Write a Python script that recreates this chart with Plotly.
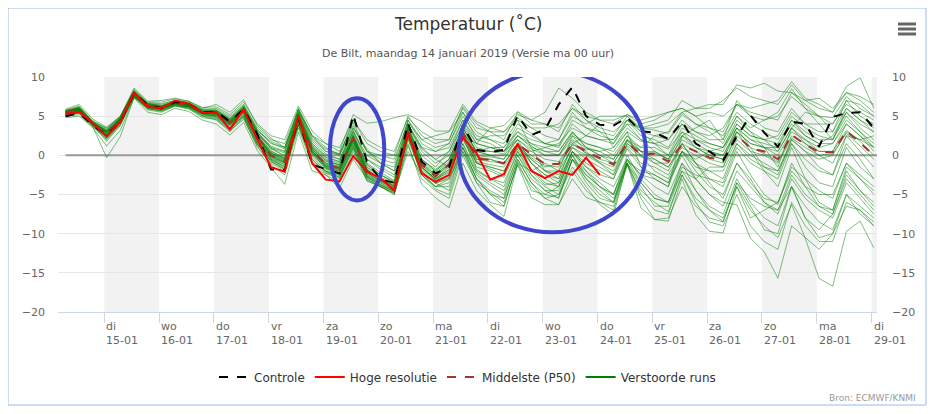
import pandas as pd
import plotly.graph_objects as go

# tijdas: ECMWF pluim, elke 6 uur vanaf ma 14-01 07 uur (lokale tijd)
tijden = pd.date_range("2019-01-14 07:00", periods=60, freq="6h")

dagen = ["di", "wo", "do", "vr", "za", "zo", "ma", "di", "wo", "do", "vr", "za", "zo", "ma", "di"]
datums = ["15-01", "16-01", "17-01", "18-01", "19-01", "20-01", "21-01", "22-01",
          "23-01", "24-01", "25-01", "26-01", "27-01", "28-01", "29-01"]

controle = [5.0, 5.4, 3.8, 2.6, 4.2, 8.0, 6.4, 6.0, 6.8, 6.6, 5.5, 5.6, 4.3, 5.9, 2.7, -1.8,
            -1.9, 4.8, -1.2, -1.7, -2.3, 5.2, -0.8, -3.1, -3.5, 4.1, -0.8, -2.3, -1.5, 3.8, 0.7, 0.4,
            0.7, 5.1, 2.6, 3.3, 6.5, 8.7, 5.0, 3.9, 3.8, 4.8, 3.1, 2.9, 2.1, 4.3, 1.5, 0.5,
            -0.7, 2.4, 5.1, 2.9, 1.1, 4.3, 4.0, 1.1, 4.9, 5.4, 5.5, 3.5]

hoge_resolutie = [5.3, 5.5, 4.1, 2.4, 4.3, 8.0, 6.2, 6.0, 7.0, 6.6, 5.4, 5.5, 3.3, 5.9, 2.0, -1.5,
                  -2.1, 5.1, -1.0, -3.1, -3.3, -0.1, -2.1, -2.9, -4.5, 2.9, -2.3, -3.4, -2.5, 2.3, 0.3, -3.1,
                  -2.4, 1.5, -2.0, -2.9, -2.0, -2.5, -0.3, -2.5]

middelste = [5.5, 5.8, 4.0, 2.8, 4.5, 7.8, 6.4, 6.1, 6.7, 6.4, 5.5, 5.4, 4.2, 5.7, 2.4, 0.0,
             -0.8, 4.8, 0.7, -1.2, -1.6, 2.2, -2.0, -3.1, -4.0, 3.1, -1.2, -2.7, -1.2, 2.9, -0.4, -0.6,
             -1.0, 1.5, 0.1, -1.1, -1.1, 1.5, 0.5, -0.3, -1.2, 1.6, 0.1, 0.2, -0.8, 1.3, 0.5, -0.3,
             -0.6, 2.6, 0.9, 0.5, -0.5, 2.6, 1.4, 0.4, 0.4, 3.1, 1.6, 0.0]

run01 = [5.7, 6.0, 4.2, 3.0, 4.6, 8.1, 6.6, 6.3, 6.9, 6.6, 5.6, 5.7, 4.6, 6.2, 3.0, 1.0,
         0.5, 5.5, 1.8, 0.2, -0.5, 3.5, 0.8, -1.0, -2.0, 4.5, 1.5, 0.5, 1.5, 5.0, 2.5, 2.0,
         1.0, 4.0, 2.8, 1.5, 1.2, 4.5, 3.5, 3.0, 2.5, 5.0, 3.5, 3.2, 2.8, 5.2, 4.0, 3.5,
         3.0, 6.5, 5.5, 5.0, 4.5, 8.0, 6.5, 5.0, 4.8, 7.5, 6.0, 5.0]
run02 = [5.2, 5.5, 3.8, 2.2, 4.0, 7.6, 6.0, 5.8, 6.5, 6.1, 5.2, 5.0, 3.6, 5.0, 1.6, -0.8,
         -1.8, 4.0, -0.5, -2.2, -2.8, 1.0, -3.2, -4.0, -4.8, 2.0, -2.5, -4.0, -3.5, 1.5, -2.5, -3.8,
         -5.0, 0.0, -2.5, -4.5, -5.5, -0.5, -2.0, -3.5, -5.0, -0.5, -2.5, -3.0, -4.0, 0.5, -1.5, -2.0,
         -2.0, 1.5, 0.0, -1.0, -2.0, 2.0, 0.5, -0.5, 0.0, 3.0, 2.0, 1.0]
run03 = [5.6, 5.9, 4.1, 3.2, 4.8, 7.9, 6.3, 6.0, 6.8, 6.5, 5.4, 5.2, 4.0, 5.8, 2.2, -0.3,
         -1.2, 4.6, 0.2, -1.6, -2.0, 2.0, -2.4, -3.5, -4.4, 2.8, -1.8, -3.2, -2.0, 2.2, -1.5, -2.0,
         -2.8, 0.8, -1.8, -3.5, -4.0, 0.0, -2.5, -4.0, -5.0, -1.0, -3.5, -5.5, -6.0, -2.0, -4.5, -7.0,
         -8.0, -4.0, -7.0, -9.0, -10.5, -6.3, -10.6, -15.7, -16.7, -9.7, -8.4, -11.8]
run04 = [5.4, 5.7, 4.0, 2.6, 4.4, 7.7, 6.5, 6.0, 6.6, 6.3, 5.5, 5.3, 4.0, 5.5, 2.2, 0.3,
         -0.5, 4.9, 0.8, -1.0, -1.4, 2.5, -1.6, -2.8, -3.6, 3.4, -0.8, -2.2, -0.8, 3.2, 0.0, -0.2,
         -0.5, 2.0, 0.5, -0.5, -0.8, 1.8, 0.2, -0.8, -1.5, 1.2, -0.2, -0.5, -1.5, 1.0, 0.0, -1.0,
         -1.5, 2.0, 0.5, 0.0, -1.0, 2.2, 1.0, 0.0, 0.2, 2.8, 1.2, -0.5]
run05 = [5.8, 6.3, 4.4, 3.4, 4.9, 8.3, 6.7, 6.6, 7.0, 6.8, 5.9, 6.0, 5.0, 6.5, 3.5, 2.0,
         1.5, 6.0, 2.5, 1.0, 0.0, 4.5, 1.5, 0.5, 0.0, 5.0, 2.5, 1.5, 2.0, 6.0, 3.5, 3.0,
         3.0, 5.2, 4.5, 5.5, 8.6, 7.3, 5.5, 4.5, 4.5, 5.2, 4.0, 4.5, 5.5, 6.0, 5.0, 3.5,
         2.5, 5.5, 4.0, 3.0, 2.0, 5.0, 3.5, 2.5, 2.0, 5.5, 4.0, 3.0]
run06 = [5.0, 5.2, 3.6, -0.3, 2.4, 7.4, 5.8, 5.5, 6.3, 5.9, 4.8, 4.6, 3.2, 4.6, 1.2, -1.2,
         -2.5, 3.5, -1.2, -2.5, -3.5, 0.5, -3.3, -4.0, -5.0, 1.2, -3.0, -4.5, -5.5, 0.0, -3.5, -4.8,
         -6.0, -1.2, -4.0, -5.5, -6.3, -2.0, -4.5, -6.0, -7.0, -1.2, -4.5, -6.0, -7.2, -2.5, -5.5, -7.0,
         -8.5, -3.5, -6.5, -9.5, -10.0, -4.0, -8.0, -10.5, -10.0, -5.0, -7.5, -9.0]
run07 = [5.3, 5.6, 3.9, 2.5, 4.3, 7.5, 6.2, 6.2, 6.8, 6.4, 5.3, 5.0, 3.8, 5.2, 2.0, -0.5,
         -1.5, 4.2, 0.0, -1.8, -2.4, 1.5, -2.8, -3.8, -4.6, 2.5, -2.2, -3.6, -2.8, 1.5, -2.0, -3.0,
         -3.5, 0.5, -2.0, -3.8, -3.5, 0.5, -1.5, -2.5, -3.0, 0.8, -1.5, -2.5, -3.5, 0.0, -3.0, -5.0,
         -6.0, -6.3, -10.6, -12.3, -15.7, -9.0, -10.5, -12.0, -10.0, -6.5, -7.0, -8.5]
run08 = [5.6, 6.1, 4.3, 3.5, 4.9, 8.4, 6.8, 6.8, 7.2, 6.9, 6.1, 6.2, 5.2, 6.8, 4.0, 2.5,
         2.0, 6.3, 3.1, 1.5, 0.5, 5.2, 4.1, 4.3, 4.8, 5.2, 4.3, 3.1, 3.1, 6.5, 4.3, 3.5,
         3.8, 5.6, 4.5, 4.0, 3.5, 6.0, 5.0, 4.5, 4.0, 5.2, 4.5, 5.0, 5.5, 6.0, 5.0, 5.5,
         5.0, 6.5, 6.0, 6.5, 7.0, 9.4, 7.3, 6.5, 5.5, 8.8, 9.9, 6.0]
run09 = [5.5, 5.9, 4.1, 2.9, 4.5, 7.9, 6.4, 6.2, 6.7, 6.5, 5.6, 5.5, 4.4, 6.0, 2.8, 0.8,
         0.0, 5.2, 1.2, -0.5, -1.0, 2.8, -1.0, -2.2, -3.2, 3.6, 0.0, -1.5, 0.5, 3.8, 1.0, 0.5,
         0.2, 2.5, 1.2, 0.0, 0.0, 2.8, 1.5, 1.0, 0.5, 3.0, 1.8, 1.5, 0.8, 3.0, 2.0, 1.5,
         1.0, 4.0, 2.5, 2.0, 1.5, 4.5, 3.0, 2.0, 2.0, 5.0, 3.0, 1.5]
run10 = [5.3, 5.5, 3.9, 2.4, 4.1, 7.6, 6.1, 5.8, 6.5, 6.2, 5.3, 5.0, 3.5, 5.3, 1.8, -0.2,
         -1.0, 4.4, 0.4, -1.4, -1.8, 1.8, -2.2, -3.3, -4.2, 2.9, -1.5, -3.0, -1.8, 2.5, -1.0, -1.5,
         -2.0, 1.0, -1.0, -2.5, -3.0, 0.5, -1.5, -3.0, -4.0, -0.5, -2.5, -4.0, -5.0, -1.0, -3.0, -5.0,
         -6.5, -2.0, -4.0, -6.0, -7.5, -3.0, -5.5, -7.0, -8.0, -3.5, -5.5, -7.5]
run11 = [5.1, 5.4, 3.7, 2.0, 3.9, 7.4, 6.0, 5.6, 6.3, 6.0, 5.0, 4.5, 3.0, 4.8, 1.0, -1.0,
         -2.0, 3.8, -1.0, -2.3, -3.0, 0.8, -3.0, -4.0, -5.0, 1.5, -3.7, -5.4, -6.7, -1.0, -4.5, -6.3,
         -7.8, -1.2, -5.4, -6.3, -6.3, -3.0, -5.4, -6.0, -6.5, -1.0, -6.7, -8.2, -8.4, -3.0, -7.6, -9.7,
         -9.9, -4.0, -8.0, -7.0, -6.0, -2.0, -4.0, -5.0, -5.0, -1.0, -3.0, -4.5]
run12 = [5.6, 5.8, 3.9, 2.7, 4.7, 7.7, 6.3, 6.0, 6.6, 6.4, 5.4, 5.3, 4.1, 5.7, 2.5, 0.2,
         -0.6, 4.8, 0.9, -1.0, -1.5, 2.2, -1.8, -3.0, -3.9, 3.2, -1.0, -2.5, -1.0, 3.0, -0.2, -0.5,
         -1.2, 1.6, 0.0, -1.3, -1.5, 1.5, 0.3, -0.5, -1.0, 1.8, 0.5, 0.3, -0.5, 1.5, 0.5, -0.5,
         -1.0, 2.5, 1.0, 0.2, -0.8, 2.5, 1.5, 0.5, 0.5, 3.2, 1.8, 0.0]
run13 = [5.9, 6.5, 4.6, 3.6, 5.0, 8.6, 6.9, 7.0, 7.3, 6.9, 6.0, 6.5, 5.5, 7.1, 3.8, 2.2,
         1.0, 5.8, 2.0, 0.5, 0.2, 4.2, 0.5, -0.5, -1.0, 4.5, 2.0, 1.0, 1.5, 5.5, 2.0, 1.5,
         0.5, 3.5, 2.5, 1.5, 1.0, 4.0, 2.5, 2.0, 1.5, 4.5, 3.5, 3.5, 4.0, 5.5, 6.0, 6.5,
         6.5, 9.0, 8.6, 9.2, 8.2, 8.0, 7.0, 7.3, 6.0, 8.0, 7.0, 5.5]
run14 = [4.8, 5.0, 3.5, 1.2, 3.2, 7.3, 5.5, 5.2, 6.0, 5.6, 4.5, 4.0, 2.6, 4.2, 0.6, -1.6,
         -3.7, 3.0, -2.0, -2.5, -4.2, -0.5, -3.0, -4.0, -4.8, 0.5, -2.5, -4.0, -3.0, 0.5, -3.0, -5.0,
         -5.5, -0.5, -3.5, -5.5, -5.0, -1.5, -4.0, -6.3, -7.6, -1.0, -5.0, -7.0, -7.5, -2.5, -6.0, -8.5,
         -9.0, -5.0, -9.0, -11.0, -12.0, -6.0, -9.0, -11.0, -11.0, -6.0, -7.0, -9.0]
run15 = [5.4, 5.6, 4.0, 3.0, 4.6, 7.8, 6.2, 6.1, 6.7, 6.3, 5.5, 5.3, 4.2, 5.6, 2.3, -0.2,
         -1.0, 4.5, 0.5, -1.5, -2.0, 2.0, -2.2, -3.2, -4.0, 3.0, -1.5, -3.0, -1.5, 2.5, -1.0, -1.5,
         -2.0, 1.0, -0.5, -2.0, -2.0, 1.0, -0.5, -1.5, -2.5, 1.0, -1.0, -1.5, -2.5, 0.5, -1.0, -2.0,
         -3.0, 1.5, -0.5, -1.5, -2.0, 1.5, -0.5, -2.0, -2.5, 1.5, -0.5, -3.0]
run16 = [5.7, 6.2, 4.2, 3.3, 5.0, 8.2, 6.6, 6.4, 6.8, 6.6, 5.8, 5.8, 4.8, 6.3, 3.2, 1.5,
         1.0, 5.6, 2.2, 0.8, 0.2, 3.8, 0.5, -1.0, -1.5, 4.0, 1.0, 0.5, 1.0, 4.5, 2.0, 2.5,
         2.5, 4.8, 3.5, 3.5, 4.0, 6.0, 4.5, 3.5, 3.0, 4.5, 2.5, 2.0, 1.0, 4.0, 2.0, 1.0,
         0.5, 4.0, 2.5, 2.0, 2.5, 5.5, 4.0, 3.0, 3.0, 6.0, 4.5, 3.5]
run17 = [5.5, 5.7, 4.0, 2.8, 4.5, 7.8, 6.4, 6.1, 6.7, 6.3, 5.4, 5.4, 4.3, 5.9, 2.6, 0.0,
         -0.8, 4.9, 0.6, -1.3, -1.8, 2.3, -1.8, -3.2, -4.3, 3.0, -1.5, -3.2, -2.5, 2.4, -1.8, -3.0,
         -4.0, 0.5, -2.5, -4.0, -5.0, -0.5, -3.0, -5.0, -6.0, -0.5, -3.5, -5.5, -6.0, -1.5, -2.5, -3.0,
         -3.5, 1.0, -1.0, -2.0, -3.0, 1.5, -1.5, -3.5, -4.0, 1.0, -1.5, -3.0]
run18 = [5.6, 6.0, 4.2, 3.1, 4.7, 8.0, 6.5, 6.3, 6.9, 6.6, 5.7, 5.6, 4.5, 6.1, 2.9, 1.2,
         0.5, 5.4, 1.5, -0.2, -0.8, 3.2, -0.5, -1.8, -2.8, 3.8, 0.5, -1.0, 0.0, 4.0, 1.5, 1.0,
         1.0, 3.0, 1.5, 0.5, 0.5, 3.0, 1.0, 0.0, -0.5, 2.5, 0.5, -1.0, -2.0, 1.5, -1.0, -3.0,
         -4.0, 0.5, -2.5, -5.0, -6.3, -1.0, -4.0, -6.5, -7.0, -2.0, -4.5, -6.0]
run19 = [5.5, 6.0, 4.1, 3.0, 4.6, 8.0, 6.5, 6.2, 6.8, 6.5, 5.6, 5.6, 4.5, 6.0, 2.9, 0.9,
         0.3, 5.3, 1.3, -0.3, -0.8, 3.0, -0.5, -1.5, -2.5, 3.8, 0.8, -0.5, 0.5, 4.5, 1.5, 1.0,
         0.5, 3.0, 2.0, 1.5, 2.0, 5.5, 3.5, 2.5, 2.0, 4.5, 3.0, 2.5, 2.0, 4.5, 3.0, 2.0,
         2.0, 7.0, 5.0, 3.5, 3.0, 6.0, 4.0, 4.0, 4.0, 7.0, 5.0, 4.0]
run20 = [5.2, 5.6, 3.8, 2.3, 4.2, 7.6, 6.1, 5.9, 6.4, 6.2, 5.2, 4.9, 3.4, 5.0, 1.4, -0.6,
         -1.5, 4.0, -0.2, -2.0, -2.5, 1.2, -2.6, -3.6, -4.5, 2.5, -2.0, -3.5, -3.0, 1.0, -2.2, -3.5,
         -4.5, 0.0, -3.0, -4.5, -4.5, -0.5, -2.5, -4.0, -5.0, 0.0, -3.0, -5.0, -6.0, -1.0, -4.5, -6.5,
         -7.5, -3.0, -6.0, -8.0, -9.0, -4.0, -6.5, -8.5, -9.5, -5.0, -6.5, -8.0]
run21 = [5.5, 5.8, 4.0, 2.5, 4.3, 7.7, 6.3, 6.0, 6.6, 6.3, 5.4, 5.2, 3.9, 5.6, 2.3, 0.1,
         -0.7, 4.7, 0.8, -1.1, -1.6, 2.1, -2.0, -3.0, -3.8, 3.2, -1.2, -2.8, -1.2, 2.8, -0.5, -0.8,
         -1.0, 1.2, -0.3, -1.5, -1.0, 1.3, 0.8, 0.5, -0.5, 2.0, 0.5, 0.5, -0.5, 2.0, 1.0, 0.5,
         0.0, 3.0, 1.5, 1.0, 0.0, 3.0, 2.0, 1.0, 1.5, 4.0, 2.5, 1.0]
run22 = [5.6, 5.9, 4.1, 2.9, 4.6, 7.9, 6.4, 6.1, 6.7, 6.4, 5.5, 5.5, 4.3, 5.8, 2.5, 0.5,
         -0.3, 5.0, 1.0, -0.8, -1.2, 2.6, -1.5, -2.5, -3.5, 3.4, -0.5, -2.0, -0.5, 3.5, 0.5, 0.0,
         0.0, 2.0, 0.8, 0.0, 0.0, 2.0, 1.0, 0.5, 1.0, 3.5, 2.0, 1.5, 2.0, 4.0, 3.0, 2.5,
         3.5, 6.5, 5.0, 4.5, 5.0, 7.5, 6.0, 5.0, 4.0, 6.5, 5.5, 4.5]
run23 = [5.3, 5.5, 3.8, 1.8, 3.8, 7.5, 5.9, 5.7, 6.4, 6.0, 5.0, 4.7, 3.2, 4.9, 1.4, -0.8,
         -1.8, 3.9, -0.8, -2.0, -2.8, 1.0, -2.8, -3.8, -4.6, 2.2, -2.2, -4.0, -4.0, 1.0, -3.0, -4.5,
         -5.5, -0.5, -3.5, -5.0, -5.4, -0.5, -3.5, -5.5, -6.0, -1.2, -5.5, -8.2, -8.0, -4.0, -6.5, -8.0,
         -8.5, -3.5, -5.5, -6.5, -7.0, -2.5, -5.0, -6.5, -7.5, -3.0, -5.0, -7.0]
run24 = [5.4, 5.8, 4.0, 2.9, 4.5, 7.8, 6.4, 6.0, 6.6, 6.4, 5.5, 5.4, 4.2, 5.7, 2.4, 0.4,
         -0.4, 5.0, 1.1, -0.6, -1.2, 2.5, -1.2, -2.5, -3.5, 3.5, -0.5, -2.0, -0.5, 3.5, 0.5, 0.0,
         -0.5, 2.5, 1.0, 0.5, 0.0, 2.5, 1.5, 1.0, 0.0, 2.5, 1.0, 1.0, 0.0, 2.5, 1.5, 0.5,
         0.0, 3.5, 2.0, 1.5, 1.0, 4.0, 2.5, 1.5, 1.5, 4.5, 3.0, 1.0]
run25 = [5.5, 6.1, 4.2, 2.7, 4.4, 7.9, 6.5, 6.2, 6.8, 6.5, 5.6, 5.6, 4.4, 6.1, 2.7, 1.0,
         -0.2, 5.3, 1.5, 0.0, -0.5, 3.0, 0.0, -1.0, -2.0, 4.0, 1.0, -0.5, -1.5, 2.5, 1.5, 3.5,
         3.0, 4.5, 1.0, -2.0, -3.0, 1.5, 2.5, 4.0, 1.0, 3.0, -1.5, -3.0, -4.0, 2.5, 3.5, 4.5,
         2.0, 5.0, 3.0, 1.0, -1.5, 3.5, 5.5, 5.0, 3.0, 7.0, 6.5, 5.0]
run26 = [5.4, 5.6, 3.9, 2.6, 4.2, 7.6, 6.2, 5.9, 6.6, 6.2, 5.3, 5.1, 3.8, 5.4, 2.0, -0.5,
         -1.4, 4.3, 0.3, -1.7, -2.2, 1.6, -2.6, -3.7, -4.5, 2.6, -2.0, -3.5, -4.5, 1.0, -3.0, -5.0,
         -6.5, -1.0, -2.0, -1.0, -2.0, 2.5, 0.5, -1.0, -2.5, 2.0, 1.0, 2.5, 3.0, 5.5, 4.0, 3.0,
         1.5, 5.0, 3.5, 4.5, 5.5, 8.5, 6.0, 4.0, 2.0, 6.0, 4.5, 3.0]
run27 = [5.5, 5.9, 4.0, 3.0, 4.6, 7.8, 6.4, 6.0, 6.7, 6.4, 5.5, 5.4, 4.2, 5.8, 2.5, 0.3,
         -0.6, 4.8, 0.6, -1.2, -1.6, 2.3, -2.0, -3.0, -4.0, 3.0, -1.0, -2.5, -1.0, 3.0, 0.5, 1.0,
         0.5, 2.0, -1.0, -3.0, -4.0, 0.5, -1.0, -2.0, -3.0, 1.5, 0.0, -1.0, -1.0, 2.5, 1.0, 0.0,
         -0.5, 3.0, 0.5, -2.0, -4.0, 1.0, -3.0, -6.0, -7.0, -1.5, -3.0, -5.0]
run28 = [5.7, 6.0, 4.1, 3.1, 4.7, 8.1, 6.6, 6.3, 6.9, 6.6, 5.7, 5.7, 4.6, 6.2, 3.1, 1.8,
         1.0, 5.7, 2.5, 0.5, 0.0, 3.5, 0.5, 0.0, -0.5, 4.2, 2.0, 2.5, 3.0, 5.5, 3.0, 2.0,
         1.5, 4.5, 3.5, 2.5, 2.0, 5.0, 4.0, 5.0, 5.0, 5.0, 3.0, 1.5, 0.0, 3.5, 2.5, 1.5,
         1.0, 3.5, 1.0, -1.5, -2.5, 2.0, 0.5, -1.5, -2.5, 2.5, 0.5, -1.5]
run29 = [5.3, 5.7, 3.9, 2.6, 4.3, 7.7, 6.2, 6.0, 6.6, 6.3, 5.4, 5.2, 3.9, 5.5, 2.1, -0.4,
         -1.2, 4.4, 0.3, -1.6, -2.2, 1.8, -2.4, -3.4, -4.2, 2.7, -1.6, -3.0, -2.2, 2.0, -1.0, -1.8,
         -2.5, 1.5, -1.0, -2.5, -3.5, 0.5, -2.0, -4.0, -5.5, -1.0, -4.0, -6.5, -6.5, -2.0, -3.0, -1.5,
         -1.5, 3.0, 1.5, 1.0, 1.0, 4.5, 2.5, 1.5, 2.5, 5.5, 3.5, 2.0]
run30 = [5.6, 5.8, 4.0, 2.9, 4.6, 7.8, 6.3, 6.1, 6.7, 6.4, 5.5, 5.3, 4.1, 5.6, 2.3, 0.0,
         -0.9, 4.7, 0.6, -1.3, -1.7, 2.2, -1.9, -3.0, -3.9, 3.1, -1.3, -2.6, -1.3, 2.8, -0.5, -0.5,
         -1.0, 1.5, -0.5, -2.0, -2.5, 1.0, 0.0, -1.0, -2.0, 1.5, 0.5, -0.5, -1.5, 1.5, -1.0, -3.5,
         -5.5, -1.0, -3.0, -6.0, -7.0, -4.0, -8.0, -9.5, -7.5, -2.5, -4.5, -6.5]
run31 = [5.6, 6.0, 4.2, 3.0, 4.7, 7.9, 6.4, 6.2, 6.8, 6.5, 5.6, 5.5, 4.3, 5.9, 2.6, 0.6,
         -0.4, 5.1, 1.0, -0.7, -1.3, 2.5, -1.2, -2.5, -3.3, 3.5, -0.5, -1.8, -0.5, 3.5, 0.5, 0.5,
         0.5, 2.5, 1.5, 1.0, 1.5, 3.5, 2.5, 2.0, 2.0, 4.0, 3.5, 4.0, 4.5, 7.0, 6.0, 6.0,
         7.0, 8.6, 7.5, 7.0, 6.5, 9.0, 7.0, 6.0, 5.5, 8.0, 7.5, 6.5]
run32 = [5.4, 5.7, 3.9, 2.6, 4.4, 7.7, 6.3, 6.0, 6.6, 6.3, 5.4, 5.3, 4.0, 5.6, 2.2, -0.1,
         -0.9, 4.6, 0.5, -1.4, -1.9, 2.0, -2.2, -3.3, -4.1, 2.9, -1.5, -3.0, -1.8, 2.6, -0.8, -1.2,
         -1.5, 1.2, 0.5, 1.0, 0.5, 3.0, 1.0, 0.0, -1.0, 2.0, 0.0, -2.0, -3.0, 0.5, -0.5, 0.5,
         1.0, 4.5, 3.0, 2.0, 0.5, 3.5, 1.5, 0.0, -1.0, 2.5, 2.0, 2.5]
run33 = [5.2, 5.4, 3.7, 2.1, 4.0, 7.5, 6.0, 5.7, 6.4, 6.1, 5.1, 4.8, 3.4, 5.1, 1.5, -0.7,
         -1.7, 4.0, -0.5, -2.1, -2.6, 1.3, -2.7, -3.8, -4.7, 2.3, -2.5, -4.3, -5.0, 0.5, -3.5, -6.0,
         -6.5, -0.8, -4.5, -5.0, -4.0, 0.0, -3.0, -4.5, -6.0, -0.8, -2.0, -2.5, -3.5, 0.5, -2.0, -4.0,
         -5.0, -1.0, -3.5, -5.5, -6.0, -1.5, -3.0, -4.5, -5.5, -1.0, -2.5, -4.0]
run34 = [5.7, 6.1, 4.3, 3.2, 4.8, 8.2, 6.6, 6.5, 7.0, 6.7, 5.8, 5.8, 4.7, 6.4, 3.3, 1.6,
         0.8, 5.9, 2.5, 1.5, 1.0, 4.5, 2.0, 1.0, 0.5, 4.8, 3.0, 2.0, 2.0, 6.2, 4.0, 3.0,
         2.0, 5.5, 4.0, 4.0, 3.0, 6.5, 4.5, 3.0, 1.5, 4.0, 2.0, 0.5, -0.5, 3.0, 1.0, 0.0,
         -0.5, 3.5, 2.0, 1.0, 0.5, 3.5, 2.0, 0.5, 0.5, 4.0, 2.5, 0.5]

runs = [run01, run02, run03, run04, run05, run06, run07, run08, run09, run10, run11, run12,
        run13, run14, run15, run16, run17, run18, run19, run20, run21, run22, run23, run24,
        run25, run26, run27, run28, run29, run30, run31, run32, run33, run34]

# de pagina heeft 8px marge rondom; figuur 920x398, plotvlak op schermpixels 58..877 x 77..312
L, R, T, B = 50, 51, 69, 94
W, H = 920 - L - R, 398 - T - B


def px(x):
    # schermpixel -> paper-coordinaat
    return (x - 8 - L) / W


def py(y):
    return (398 - B - (y - 8)) / H


fig = go.Figure()

for run in runs:
    fig.add_trace(go.Scatter(x=tijden, y=run, mode="lines", showlegend=False, hoverinfo="skip",
                             line=dict(color="rgba(0,128,0,0.5)", width=1)))

fig.add_trace(go.Scatter(x=tijden, y=middelste, mode="lines", name="Middelste (P50)", legendrank=3,
                         line=dict(color="#a83232", width=2, dash="dash")))
fig.add_trace(go.Scatter(x=tijden, y=controle, mode="lines", name="Controle", legendrank=1,
                         line=dict(color="black", width=2, dash="dash")))
fig.add_trace(go.Scatter(x=tijden[:len(hoge_resolutie)], y=hoge_resolutie, mode="lines",
                         name="Hoge resolutie", legendrank=2, line=dict(color="red", width=2)))
fig.add_trace(go.Scatter(x=[None], y=[None], mode="lines", name="Verstoorde runs", legendrank=4,
                         line=dict(color="green", width=2)))

# grijze banden om de andere dag
shapes = []
for d in range(1, 16, 2):
    start = pd.Timestamp("2019-01-14") + pd.Timedelta(days=d)
    shapes.append(dict(type="rect", xref="x", yref="paper", x0=start, x1=start + pd.Timedelta(days=1),
                       y0=0, y1=1, fillcolor="#f2f2f2", line_width=0, layer="below"))
# nullijn
shapes.append(dict(type="line", xref="x", yref="y", x0=tijden[0], x1="2019-01-29 02:24", y0=0, y1=0,
                   line=dict(color="#999999", width=2), layer="between"))
# blauwe ellipsen
shapes.append(dict(type="circle", xref="x", yref="y", x0="2019-01-19 02:48", x1="2019-01-20 02:36",
                   y0=-5.75, y1=7.28, line=dict(color="#3f48cc", width=4)))
shapes.append(dict(type="circle", xref="x", yref="y", x0="2019-01-21 11:12", x1="2019-01-24 21:12",
                   y0=-9.83, y1=10.73, line=dict(color="#3f48cc", width=4)))
# kader
shapes.append(dict(type="rect", xref="paper", yref="paper", x0=px(8), x1=px(926), y0=py(405), y1=py(8),
                   line=dict(color="#99bbe8", width=1)))
# menu-icoon
for yy in [24, 29, 34]:
    shapes.append(dict(type="line", xref="paper", yref="paper", x0=px(898), x1=px(916), y0=py(yy), y1=py(yy),
                       line=dict(color="#666666", width=3)))

annotations = []
for d, (dag, datum) in enumerate(zip(dagen, datums)):
    annotations.append(dict(x=pd.Timestamp("2019-01-14") + pd.Timedelta(days=d + 1), xref="x",
                            y=py(318), yref="paper", text=dag + "<br>" + datum, showarrow=False,
                            xanchor="left", yanchor="top", align="left",
                            font=dict(size=11, color="#666666")))
annotations.append(dict(x=px(468), y=py(24), xref="paper", yref="paper", text="Temperatuur (˚C)",
                        showarrow=False, yanchor="middle", font=dict(size=17, color="#333333")))
annotations.append(dict(x=px(468), y=py(53), xref="paper", yref="paper",
                        text="De Bilt, maandag 14 januari 2019 (Versie ma 00 uur)",
                        showarrow=False, yanchor="middle", font=dict(size=11, color="#555555")))
annotations.append(dict(x=px(918), y=py(398), xref="paper", yref="paper", text="Bron: ECMWF/KNMI",
                        showarrow=False, xanchor="right", yanchor="middle",
                        font=dict(size=9, color="#999999")))

fig.update_layout(
    width=920, height=398,
    margin=dict(l=L, r=R, t=T, b=B),
    paper_bgcolor="white", plot_bgcolor="white",
    font=dict(family="DejaVu Sans", color="#333333"),
    showlegend=True,
    legend=dict(orientation="h", x=0.5, xanchor="center", y=py(377), yanchor="middle",
                itemwidth=30, font=dict(size=12, color="#333333")),
    shapes=shapes, annotations=annotations,
    xaxis=dict(type="date", range=["2019-01-14 03:42", "2019-01-29 02:24"], showgrid=False,
               showticklabels=False, ticks="outside", ticklen=10, tickcolor="#ccd6eb",
               tickvals=[pd.Timestamp("2019-01-14") + pd.Timedelta(days=d) for d in range(1, 16)],
               showline=True, linecolor="#ccd6eb", linewidth=1, zeroline=False),
    yaxis=dict(range=[-20, 10], dtick=5, gridcolor="#e6e6e6", zeroline=False,
               tickfont=dict(size=11, color="#666666"), ticklabelstandoff=12),
    yaxis2=dict(range=[-20, 10], dtick=5, overlaying="y", side="right", showgrid=False, zeroline=False,
                tickfont=dict(size=11, color="#666666"), ticklabelstandoff=14),
)

# tweede as alleen voor de rechter labels
fig.add_trace(go.Scatter(x=[tijden[0]], y=[None], yaxis="y2", showlegend=False, hoverinfo="skip"))

fig.write_html("out.html")
